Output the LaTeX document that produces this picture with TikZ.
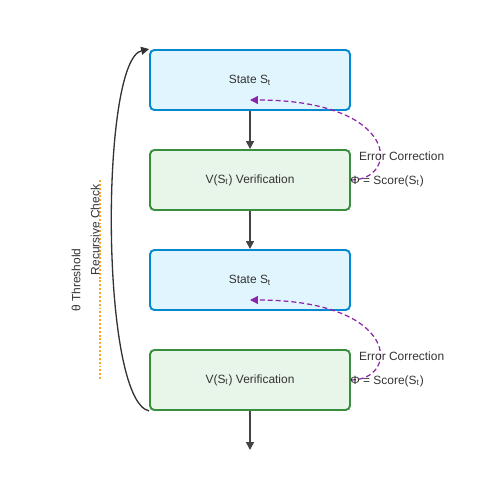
\documentclass[tikz,border=0pt]{standalone}
\usepackage{fontspec}
\setmainfont{Liberation Sans}
\usetikzlibrary{arrows.meta}
\definecolor{statefill}{HTML}{E1F5FE}
\definecolor{stateline}{HTML}{0288D1}
\definecolor{veriffill}{HTML}{E8F5E9}
\definecolor{verifline}{HTML}{388E3C}
\definecolor{linkgray}{HTML}{444444}
\definecolor{txtgray}{HTML}{333333}
\definecolor{corrpurple}{HTML}{8E24AA}
\definecolor{checkorange}{HTML}{F9A825}
\begin{document}
\begin{tikzpicture}[x=0.02cm, y=-0.02cm, font=\fontsize{6.8pt}{8pt}\selectfont, text=txtgray,
        statebox/.style={draw=stateline, fill=statefill, line width=1.1pt, rounded corners=2.5pt, minimum width=4cm, minimum height=1.2cm},
        verifbox/.style={draw=verifline, fill=veriffill, line width=1.1pt, rounded corners=2.5pt, minimum width=4cm, minimum height=1.2cm},
        flow/.style={draw=linkgray, line width=0.85pt, -{Triangle[length=4.5pt, width=4.5pt]}},
        correct/.style={draw=corrpurple, line width=0.7pt, dash pattern=on 2.8pt off 1.7pt, -{Triangle[length=4.5pt, width=4.5pt]}}]
        \useasboundingbox (0,0) rectangle (500,500);

        \node[statebox] (s1) at (250,80) {State S\textsubscript{t}};
        \node[verifbox] (v1) at (250,180) {V(S\textsubscript{t}) Verification};
        \node[statebox] (s2) at (250,280) {State S\textsubscript{t}};
        \node[verifbox] (v2) at (250,380) {V(S\textsubscript{t}) Verification};
        \coordinate (out) at (250,450);

        \draw[flow] (s1) -- (v1);
        \draw[flow] (v1) -- (s2);
        \draw[flow] (v2) -- (out);

        % loop back to the top
        \draw[draw=txtgray, line width=0.75pt, -{Triangle[length=4.5pt, width=4.5pt]}] (v2.south west) .. controls (100,400) and (100,60) .. (s1.north west);

        % error correction
        \coordinate (c1) at (250,100);
        \coordinate (c2) at (250,300);
        \draw[correct] (v1.east) .. controls (400,180) and (400,100) .. (c1);
        \draw[correct] (v2.east) .. controls (400,380) and (400,300) .. (c2);
        \node[anchor=west] (ec1) at (353,156) {Error Correction};
        \node[anchor=west, inner sep=0pt] (sc1) at (350,181) {Φ = Score(S\textsubscript{t})};
        \node[anchor=west] (ec2) at (353,356) {Error Correction};
        \node[anchor=west, inner sep=0pt] (sc2) at (350,381) {Φ = Score(S\textsubscript{t})};

        % recursive check
        \coordinate (chktop) at (100,180);
        \coordinate (chkbot) at (100,380);
        \draw[checkorange, line width=1.1pt, dash pattern=on 1.1pt off 1.1pt] (chktop) -- (chkbot);
        \node[rotate=90] (rc) at (95,230) {Recursive Check};
        \node[rotate=90] (th) at (76,280) {θ Threshold};
    \end{tikzpicture}
\end{document}
